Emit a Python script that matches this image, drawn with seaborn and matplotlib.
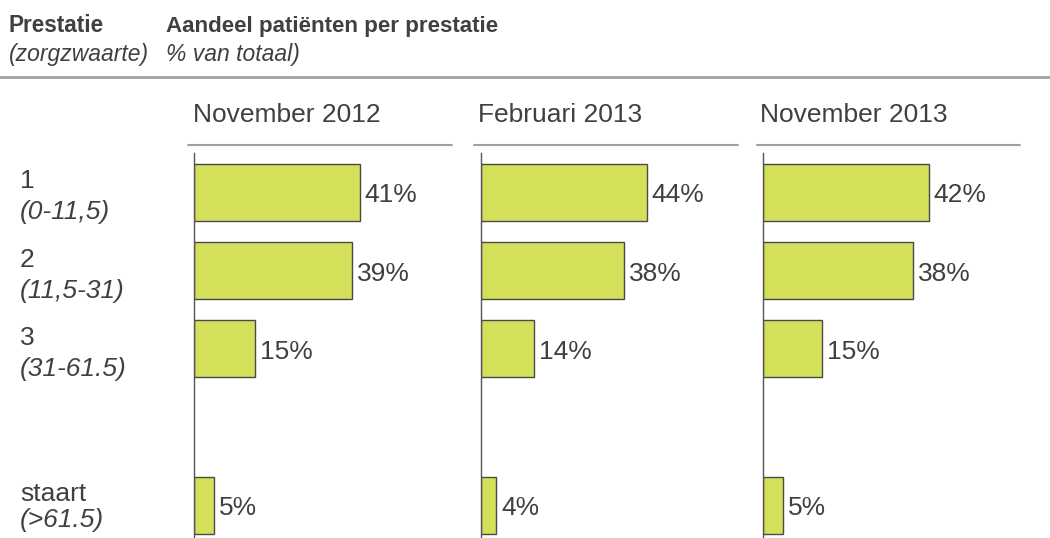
import matplotlib
matplotlib.use("Agg")
import matplotlib.pyplot as plt
import matplotlib.transforms as mtransforms
from matplotlib.lines import Line2D
import pandas as pd
import seaborn as sns

# Data
categories = ["1", "2", "3", "staart"]
ranges = ["(0-11,5)", "(11,5-31)", "(31-61.5)", "(>61.5)"]
periods = ["November 2012", "Februari 2013", "November 2013"]
nov_2012 = [41, 39, 15, 5]
feb_2013 = [44, 38, 14, 4]
nov_2013 = [42, 38, 15, 5]
series = [nov_2012, feb_2013, nov_2013]

# Category order with an empty slot before the tail group
slot_order = ["1", "2", "3", " ", "staart"]

TEXT = "#404040"
BAR = "#D4DF5A"
EDGE = "#4a4a4a"
RULE = "#a0a0a0"
FONT = "Liberation Sans"

sns.set_theme(style="white")
plt.rcParams["font.family"] = [FONT, "DejaVu Sans"]

W, H = 1050, 538
fig = plt.figure(figsize=(W / 100, H / 100), dpi=100)


def fx(px):
    return px / W


def fy(py):
    return 1 - py / H


# Header
fig.text(fx(9), fy(32), "Prestatie", fontsize=16.3, fontweight="bold", color=TEXT, va="baseline")
fig.text(fx(9), fy(61), "(zorgzwaarte)", fontsize=16.5, style="italic", color=TEXT, va="baseline")
fig.text(fx(166), fy(32), "Aandeel patiënten per prestatie", fontsize=16.1, fontweight="bold",
         color=TEXT, va="baseline")
fig.text(fx(166), fy(61), "% van totaal)", fontsize=16.5, style="italic", color=TEXT, va="baseline")
fig.add_artist(Line2D([0, 1], [fy(76.5), fy(76.5)], transform=fig.transFigure, color=RULE, lw=2))

# Panels
axis_left = [194, 481, 763]
title_left = [193, 478, 760]
rule_span = [(188, 452), (474, 738), (757, 1020)]
ax_w = 260
slot_px = 78.2
top_px = 192.5 - slot_px / 2
bottom_px = 505 + slot_px / 2

axes = []
for i, (period, vals) in enumerate(zip(periods, series)):
    ax = fig.add_axes([fx(axis_left[i]), fy(bottom_px), ax_w / W, (bottom_px - top_px) / H])
    df = pd.DataFrame({"cat": categories, "value": vals})
    sns.barplot(data=df, x="value", y="cat", order=slot_order, orient="h", color=BAR,
                saturation=1, width=0.73, edgecolor=EDGE, linewidth=1.0, ax=ax)
    ax.set_xlim(0, max(vals) * 1.57)
    ax.set_ylim(len(slot_order) - 0.5, -0.5)
    ax.set_xlabel("")
    ax.set_ylabel("")
    ax.set_xticks([])
    ax.set_yticks([])
    for side in ["top", "right", "bottom"]:
        ax.spines[side].set_visible(False)
    ax.spines["left"].set_color("#555555")
    ax.spines["left"].set_linewidth(1.0)
    ax.patch.set_alpha(0)

    for cat, v in zip(categories, vals):
        ypos = slot_order.index(cat)
        ax.annotate(f"{v}%", xy=(v, ypos), xytext=(5, -10), textcoords="offset pixels",
                    fontsize=19, color=TEXT, ha="left", va="baseline")

    fig.text(fx(title_left[i]), fy(122), period, fontsize=19, color=TEXT, va="baseline")
    x0, x1 = rule_span[i]
    fig.add_artist(Line2D([fx(x0), fx(x1)], [fy(145), fy(145)], transform=fig.transFigure,
                          color=RULE, lw=1.5))
    axes.append(ax)

# Row labels at the left, aligned with the bars of the first panel
ax0 = axes[0]
blend = mtransforms.blended_transform_factory(fig.transFigure, ax0.transData)
for cat, rng in zip(categories, ranges):
    ypos = slot_order.index(cat)
    low = -22 if cat == "staart" else -27
    ax0.annotate(cat, xy=(fx(20), ypos), xycoords=blend, xytext=(0, 4), textcoords="offset pixels",
                 fontsize=19, color=TEXT, ha="left", va="baseline", annotation_clip=False)
    ax0.annotate(rng, xy=(fx(20), ypos), xycoords=blend, xytext=(0, low), textcoords="offset pixels",
                 fontsize=19, style="italic", color=TEXT, ha="left", va="baseline",
                 annotation_clip=False)

fig.savefig("out.png", dpi=100)
